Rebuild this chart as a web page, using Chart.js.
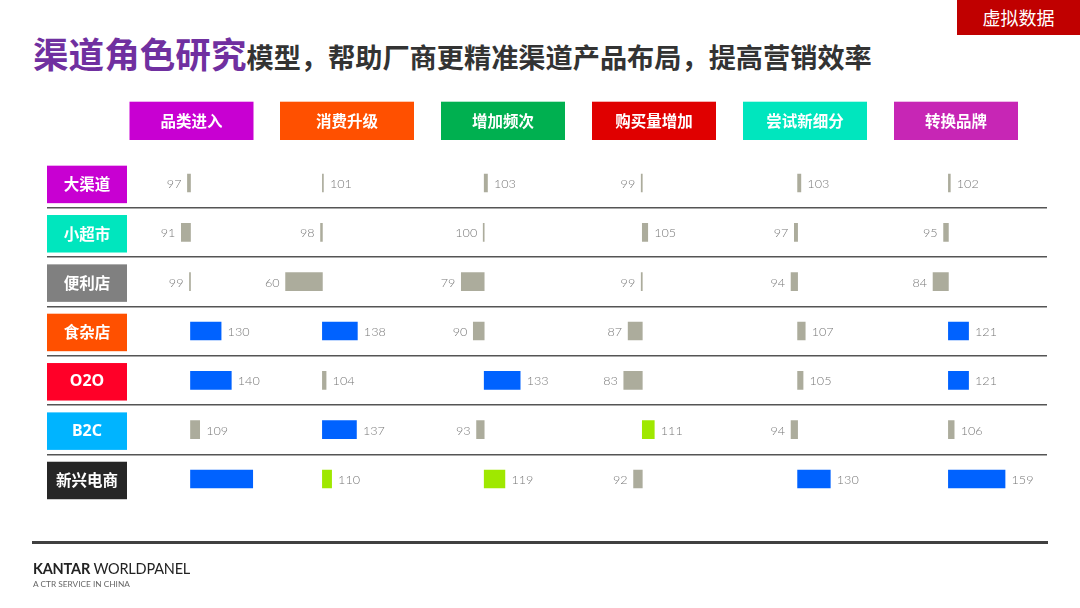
<!DOCTYPE html>
<html>
<head>
<meta charset="utf-8">
<script src="https://cdn.jsdelivr.net/npm/chart.js@4/dist/chart.umd.min.js"></script>
<style>
    body { margin: 0; background: #fff; }
    #page { position: relative; width: 1080px; height: 608px; overflow: hidden; font-family: "Noto Sans CJK SC", "Noto Sans", sans-serif; }
    #chartBox { position: absolute; left: 0; top: 0; width: 1080px; height: 608px; }
    .title { position: absolute; left: 33px; top: 27px; font-weight: 700; white-space: nowrap; color: #333; font-size: 27.2px; }
    .title span { color: #7030a0; font-size: 35.6px; }
    .tag { position: absolute; left: 957px; top: 0; width: 123px; height: 35px; background: #c00000; color: #fff; font-size: 18px; line-height: 35px; text-align: center; }
    .footLine { position: absolute; left: 32px; top: 541px; width: 1016px; height: 3px; background: #404040; }
    .brand { position: absolute; left: 33px; top: 560px; font-family: Lato, sans-serif; font-size: 14.5px; color: #222; letter-spacing: -0.2px; }
    .brand b { font-weight: 700; }
    .sub { position: absolute; left: 33px; top: 579px; font-family: Lato, sans-serif; font-size: 8.3px; color: #666; }
</style>
</head>
<body>
<div id="page">
    <div class="title"><span>渠道角色研究</span>模型，帮助厂商更精准渠道产品布局，提高营销效率</div>
    <div class="tag">虚拟数据</div>
    <div id="chartBox"><canvas id="roleChart"></canvas></div>
    <div class="footLine"></div>
    <div class="brand"><b>KANTAR</b> WORLDPANEL</div>
    <div class="sub">A CTR SERVICE IN CHINA</div>
</div>

<script>
// ------------------ Données -------------------------
const channels = ['大渠道', '小超市', '便利店', '食杂店', 'O2O', 'B2C', '新兴电商'];
const roles = ['品类进入', '消费升级', '增加频次', '购买量增加', '尝试新细分', '转换品牌'];

// indice par rôle (colonne), un chiffre par canal
const pinleiJinru = [97, 91, 99, 130, 140, 109, 161];
const xiaofeiShengji = [101, 98, 60, 138, 104, 137, 110];
const zengjiaPinci = [103, 100, 79, 90, 133, 93, 119];
const goumailiang = [99, 105, 99, 87, 83, 111, 92];
const changshiXinxifen = [103, 97, 94, 107, 105, 94, 130];
const zhuanhuanPinpai = [102, 95, 84, 121, 121, 106, 159];

// la valeur de cette case n'est pas affichée sur l'original
const unlabeled = ['品类进入|新兴电商'];

const series = [pinleiJinru, xiaofeiShengji, zengjiaPinci, goumailiang, changshiXinxifen, zhuanhuanPinpai];

// ------------------ Mise en page -------------------------
const L = 47, R = 1047, TOP = 158.3, BOT = 503.7;
const baseX = [190.5, 322.4, 484.2, 642.3, 797.6, 948.4];
const pxPerUnit = [1.02, 0.92, 1.09, 1.09, 1.09, 0.96];

const roleColors = ['#c800d2', '#ff5000', '#00b050', '#e00000', '#00e6be', '#c726b5'];
const roleBoxes = [[129.5, 124], [280, 134], [441, 124], [592, 124], [743, 124], [894, 124]];
const channelColors = ['#c800d2', '#00e6be', '#808080', '#ff5000', '#ff0028', '#00b4ff', '#262626'];

function barColor(v) {
    if (v >= 120) return '#0062ff';
    if (v >= 110) return '#9fe800';
    return '#acac9c';
}

const scales = {
    y: {
        type: 'category',
        ticks: { display: false },
        border: { display: false },
        grid: {
            offset: true,
            drawTicks: false,
            lineWidth: 1.6,
            color: c => (c.index === undefined || c.index === 0) ? 'rgba(0,0,0,0)' : '#555'
        },
        afterFit: s => { s.width = 0; }
    }
};
roles.forEach((r, i) => {
    scales['x' + i] = {
        type: 'linear',
        display: false,
        min: 100 - (baseX[i] - L) / pxPerUnit[i],
        max: 100 + (R - baseX[i]) / pxPerUnit[i]
    };
});

// ------------------ Plugins de dessin -------------------------
const decoPlugin = {
    id: 'deco',
    afterDatasetsDraw(chart) {
        const ctx = chart.ctx;
        // étiquettes des valeurs
        ctx.save();
        ctx.font = '300 12.6px Lato, sans-serif';
        ctx.fillStyle = '#777';
        ctx.textBaseline = 'middle';
        series.forEach((vals, i) => {
            const meta = chart.getDatasetMeta(i);
            meta.data.forEach((bar, j) => {
                if (unlabeled.indexOf(roles[i] + '|' + channels[j]) >= 0) return;
                const v = vals[j];
                const left = Math.min(bar.x, bar.base);
                const right = Math.max(bar.x, bar.base);
                if (v > 100) {
                    ctx.textAlign = 'left';
                    ctx.fillText(String(v), right + 6.5, bar.y + 1);
                } else {
                    ctx.textAlign = 'right';
                    ctx.fillText(String(v), left - 6, bar.y + 1);
                }
            });
        });
        ctx.restore();
    },
    afterDraw(chart) {
        const ctx = chart.ctx;
        const yScale = chart.scales.y;
        ctx.save();
        ctx.textAlign = 'center';
        ctx.textBaseline = 'middle';
        ctx.font = 'bold 15.5px "Noto Sans CJK SC", sans-serif';
        // en-têtes des rôles
        roles.forEach((r, i) => {
            const [x, w] = roleBoxes[i];
            ctx.fillStyle = roleColors[i];
            ctx.fillRect(x, 101.7, w, 38.3);
            ctx.fillStyle = '#fff';
            ctx.fillText(r, x + w / 2, 121);
        });
        // étiquettes des canaux
        channels.forEach((c, j) => {
            const y = yScale.getPixelForValue(j) + 1.5;
            ctx.fillStyle = channelColors[j];
            ctx.fillRect(L, y - 18.8, 80, 37.5);
            ctx.fillStyle = '#fff';
            ctx.font = /^[A-Z0-9]+$/.test(c) ? 'bold 16px "Noto Sans", sans-serif' : 'bold 15.5px "Noto Sans CJK SC", sans-serif';
            ctx.fillText(c, L + 40, y);
        });
        ctx.restore();
    }
};

// ------------------ Création du graphique -------------------------
window.onload = function() {
    const ctx = document.getElementById('roleChart').getContext('2d');
    new Chart(ctx, {
        type: 'bar',
        data: {
            labels: channels,
            datasets: roles.map((r, i) => ({
                label: r,
                xAxisID: 'x' + i,
                yAxisID: 'y',
                data: series[i].map(v => [Math.min(v, 100), Math.max(v, 100)]),
                backgroundColor: series[i].map(barColor),
                borderWidth: 0,
                barThickness: 18,
                minBarLength: 1,
                grouped: false
            }))
        },
        options: {
            indexAxis: 'y',
            responsive: true,
            maintainAspectRatio: false,
            animation: false,
            layout: { padding: { left: L, right: 1080 - R, top: TOP, bottom: 608 - BOT } },
            plugins: { legend: { display: false }, tooltip: { enabled: false } },
            scales: scales
        },
        plugins: [decoPlugin]
    });
}
</script>
</body>
</html>
